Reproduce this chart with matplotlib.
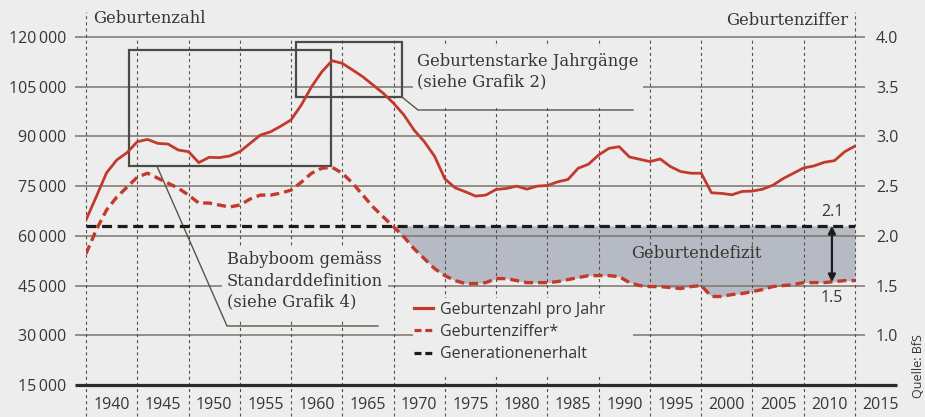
import numpy as np
import matplotlib
matplotlib.use("Agg")
import matplotlib.pyplot as plt
from matplotlib.patches import Rectangle
from matplotlib.lines import Line2D

# Daten
years = np.arange(1940, 2016)
births = [
    64800, 71800, 79000, 82900, 85100, 88400, 89100, 87900, 87700, 85900,
    85400, 82100, 83700, 83600, 84100, 85400, 87900, 90400, 91400, 93100,
    95000, 99500, 105000, 109500, 112850, 112050, 110050, 108000, 105500, 103000,
    100000, 96500, 91900, 88400, 84000, 77200, 74500, 73300, 72000, 72300,
    74000, 74300, 75000, 74100, 75000, 75200, 76300, 77000, 80400, 81600,
    84400, 86400, 86900, 83800, 83100, 82400, 83200, 80900, 79400, 78900,
    78900, 73000, 72800, 72400, 73400, 73500, 74100, 75300, 77300, 78900,
    80500, 81100, 82200, 82700, 85400, 87100,
]
tfr = [
    1.82, 2.06, 2.26, 2.39, 2.49, 2.59, 2.63, 2.58, 2.53, 2.48,
    2.41, 2.33, 2.33, 2.31, 2.29, 2.31, 2.37, 2.41, 2.41, 2.43,
    2.46, 2.54, 2.63, 2.68, 2.69, 2.63, 2.53, 2.41, 2.29, 2.19,
    2.09, 1.99, 1.87, 1.77, 1.67, 1.60, 1.55, 1.52, 1.52, 1.53,
    1.57, 1.57, 1.55, 1.53, 1.53, 1.53, 1.54, 1.56, 1.58, 1.60,
    1.60, 1.60, 1.59, 1.53, 1.50, 1.49, 1.49, 1.48, 1.47, 1.49,
    1.50, 1.39, 1.39, 1.41, 1.42, 1.44, 1.46, 1.49, 1.50, 1.51,
    1.53, 1.53, 1.53, 1.54, 1.55, 1.55,
]
replacement = 2.1

left_ticks = [15000, 30000, 45000, 60000, 75000, 90000, 105000, 120000]
right_ticks = [1.0, 1.5, 2.0, 2.5, 3.0, 3.5, 4.0]
year_labels = list(range(1940, 2020, 5))

# Geburtenzahl 120000 <-> Geburtenziffer 4.0
TFR_SCALE = 30000

BG = "#ededee"
RED = "#c23a2b"
GRID = "#7c746b"
BOX = "#4d4a48"
TEXT = "#3a3532"
FILL = "#b6bac4"
SERIF = "DejaVu Serif"

plt.rcParams["font.family"] = ["Open Sans", "DejaVu Sans"]
plt.rcParams["lines.scale_dashes"] = False
plt.rcParams["text.color"] = TEXT

W, H = 925, 417
fig = plt.figure(figsize=(W / 100, H / 100), dpi=100)
fig.patch.set_facecolor(BG)
ax = fig.add_axes([86 / W, (H - 385) / H, (855 - 86) / W, (385 - 37) / H])
ax.set_facecolor(BG)

# Pixel -> Datenkoordinaten (für Beschriftungen / Abdeckungen)
PX_YEAR = (855 - 86) / 75
PX_VAL = 105000 / 348


def xd(px):
    return 1940 + (px - 86) / PX_YEAR


def yd(py):
    return 120000 - (py - 37) * PX_VAL


for s in ax.spines.values():
    s.set_visible(False)

# horizontale Gitterlinien
for v in left_ticks[1:]:
    ax.hlines(v, xd(75), xd(865), color=GRID, lw=1.1, zorder=2, clip_on=False)
ax.hlines(15000, xd(75), xd(897), color="#2e2a27", lw=2.3, zorder=6, clip_on=False)

# vertikale gestrichelte Linien
for yr in year_labels:
    top = yd(12) if yr in (1940, 2015) else 120000
    ax.vlines(yr, yd(416), top, color="#555049", lw=0.8,
              linestyles=(0, (2.2, 2.2)), zorder=2, clip_on=False)

# Geburtendefizit
tfr_arr = np.array(tfr)
ax.fill_between(years, np.minimum(tfr_arr, replacement) * TFR_SCALE,
                replacement * TFR_SCALE, where=years >= 1969,
                color=FILL, lw=0, zorder=1)

# Abdeckungen hinter Texten
for x0, x1, y0, y1 in [(413, 643, 47, 108), (222, 388, 247, 320), (413, 633, 298, 377)]:
    ax.add_patch(Rectangle((xd(x0), yd(y1)), xd(x1) - xd(x0), yd(y0) - yd(y1),
                           facecolor=BG, edgecolor="none", zorder=3, clip_on=False))

# Markierungsrahmen
ax.add_patch(Rectangle((1944.2, 81000), 19.7, 35000, fill=False, ec=BOX, lw=1.6, zorder=4))
ax.add_patch(Rectangle((1960.5, 101800), 10.35, 16800, fill=False, ec=BOX, lw=1.6, zorder=4))
ax.plot([xd(157), xd(227), xd(378)], [81000, yd(326), yd(326)],
        color="#5a534c", lw=1.0, zorder=4, clip_on=False)
ax.plot([1970.85, xd(418), xd(633)], [101800, yd(110), yd(110)],
        color="#5a534c", lw=1.0, zorder=4, clip_on=False)

# Kurven
ax.plot(years, [replacement * TFR_SCALE] * len(years), color="#1e1c1b", lw=2.3,
        dashes=(7.2, 4.0), zorder=5)
ax.plot(years, tfr_arr * TFR_SCALE, color=RED, lw=2.4, dashes=(6.5, 3.6), zorder=5)
ax.plot(years, births, color=RED, lw=2.0, zorder=5, solid_joinstyle="round")

# Pfeil 2.1 -> 1.5
ax.annotate("", xy=(2012.75, replacement * TFR_SCALE), xytext=(2012.75, 1.535 * TFR_SCALE),
            arrowprops=dict(arrowstyle="<|-|>", color="#1e1c1b", lw=1.6,
                            mutation_scale=11, shrinkA=0, shrinkB=0), zorder=6)
ax.text(xd(832), yd(212), "2.1", ha="center", va="center", fontsize=11.5)
ax.text(xd(832), yd(298), "1.5", ha="center", va="center", fontsize=11.5)

# Achsen
ax.set_xticks([])
ax.set_yticks(left_ticks, [f"{v // 1000}\u2009000" for v in left_ticks])
ax.tick_params(axis="y", length=0, pad=14, labelsize=11.5, labelcolor=TEXT)
ax.set_xlim(1940, 2015)
ax.set_ylim(15000, 120000)
# Jahreszahlen jeweils zwischen den Linien
for yr in year_labels:
    ax.text(yr + 2.5, yd(405), str(yr), ha="center", va="center", fontsize=11.5,
            clip_on=False)

sec = ax.secondary_yaxis("right", functions=(lambda b: b / TFR_SCALE, lambda t: t * TFR_SCALE))
sec.set_yticks(right_ticks, [f"{t:.1f}" for t in right_ticks])
sec.tick_params(length=0, pad=15, labelsize=11.5, labelcolor=TEXT)
for s in sec.spines.values():
    s.set_visible(False)

# Texte
ax.text(xd(93), yd(18), "Geburtenzahl", ha="left", va="center", family=SERIF, fontsize=11.8)
ax.text(xd(848), yd(20), "Geburtenziffer", ha="right", va="center", family=SERIF, fontsize=11.8)
ax.text(xd(417), yd(71.5), "Geburtenstarke Jahrgänge\n(siehe Grafik 2)", ha="left",
        va="center", family=SERIF, fontsize=11.8, linespacing=1.3, zorder=6)
ax.text(xd(227), yd(281), "Babyboom gemäss\nStandarddefinition\n(siehe Grafik 4)",
        ha="left", va="center", family=SERIF, fontsize=11.8, linespacing=1.32, zorder=6)
ax.text(xd(696), yd(254), "Geburtendefizit", ha="center", va="center",
        family=SERIF, fontsize=11.8, zorder=6)

handles = [
    Line2D([], [], color=RED, lw=2.3),
    Line2D([], [], color=RED, lw=2.3, dashes=(5, 2.8)),
    Line2D([], [], color="#1e1c1b", lw=2.3, dashes=(5, 2.8)),
]
labels = ["Geburtenzahl pro Jahr", "Geburtenziffer*", "Generationenerhalt"]
leg = ax.legend(handles, labels, loc="upper left", bbox_to_anchor=(xd(414), yd(302)),
                bbox_transform=ax.transData, frameon=False, fontsize=11.5,
                handlelength=1.2, handletextpad=0.45, labelspacing=0.38,
                borderpad=0, borderaxespad=0)
leg.set_zorder(7)

fig.text(918 / W, 1 - 366 / H, "Quelle: BfS", rotation=90, ha="center", va="center",
         fontsize=9, color=TEXT)

fig.savefig("out.png", dpi=100, facecolor=BG)
